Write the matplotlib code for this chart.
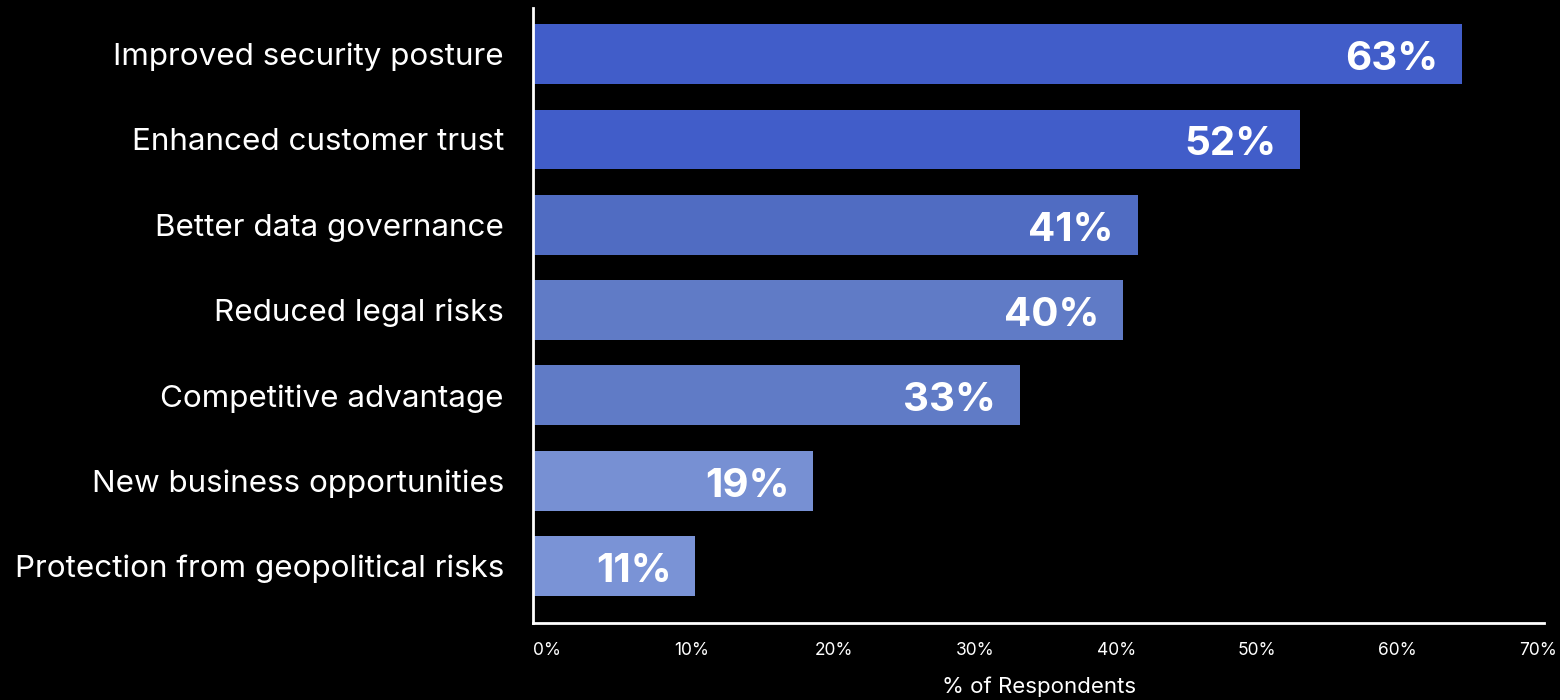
import numpy as np
import matplotlib.pyplot as plt
import matplotlib.transforms as mtransforms

categories = [
    'Improved security posture',
    'Enhanced customer trust',
    'Better data governance',
    'Reduced legal risks',
    'Competitive advantage',
    'New business opportunities',
    'Protection from geopolitical risks',
]
values = [63, 52, 41, 40, 33, 19, 11]
colors = ['#415DC9', '#415DC9', '#506CC2', '#607BC6', '#607BC6', '#7790D3', '#7A93D6']
tick_labels = ['0%', '10%', '20%', '30%', '40%', '50%', '60%', '70%']

plt.rcParams['font.family'] = ['Inter', 'DejaVu Sans']

fig = plt.figure(figsize=(15.6, 7), dpi=100, facecolor='black')
ax = fig.add_axes([0.3417, 0.11, 0.6483, 0.8786], facecolor='black')

y = np.arange(len(categories))
ax.barh(y, values, height=0.70, color=colors)

xmax = 68.6
ax.set_xlim(0, xmax)
ax.set_ylim(6.668, -0.54)

# value labels inside the bar ends
for yi, v in zip(y, values):
    ax.annotate(f'{v}%', (v, yi), xytext=(-17, -4), textcoords='offset points',
                ha='right', va='center', color='white',
                fontsize=29, fontweight='bold')

ax.set_yticks(y)
ax.set_yticklabels(categories, color='white', fontsize=22.6, va='center')
ax.tick_params(axis='y', length=0, pad=21)
shift = mtransforms.ScaledTranslation(0, -3 / 100, fig.dpi_scale_trans)
for lbl in ax.get_yticklabels():
    lbl.set_transform(lbl.get_transform() + shift)

ticks = np.linspace(0, 0.975 * xmax, len(tick_labels))
ax.set_xticks(ticks)
ax.set_xticklabels(tick_labels, color='white', fontsize=12.5, ha='left')
ax.tick_params(axis='x', length=0, pad=14)

ax.set_xlabel('% of Respondents', color='white', fontsize=16, labelpad=12)

for side in ['top', 'right']:
    ax.spines[side].set_visible(False)
for side in ['left', 'bottom']:
    ax.spines[side].set_color('white')
    ax.spines[side].set_linewidth(2)

fig.savefig('out.png', dpi=100, facecolor='black')
